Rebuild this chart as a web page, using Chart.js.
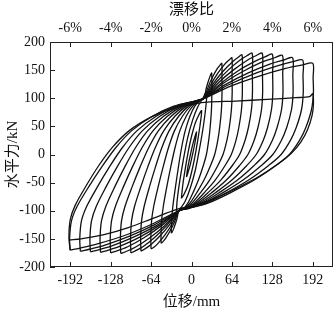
<!DOCTYPE html>
<html><head><meta charset="utf-8">
<script src="https://cdn.jsdelivr.net/npm/chart.js@4.4.1/dist/chart.umd.min.js"></script>
<style>html,body{margin:0;padding:0;background:#fff;}#wrap{width:336px;height:311px;}</style>
</head><body><div id="wrap"><canvas id="c" width="336" height="311"></canvas></div>
<script>
// Tick labels
const xTicks = [-192,-128,-64,0,64,128,192];
const yTicks = [-200,-150,-100,-50,0,50,100,150,200];
const driftTicks = [-6,-4,-2,0,2,4,6];

// Hysteresis loops: [displacement mm, force kN]
const loop008 = [[-8,-40],[-6,-24],[-2,-2],[2,18],[6,34],[8,40],[6,24],[2,2],[-2,-18],[-6,-34],[-8,-40]];
const loop016 = [[-16,-78],[-14,-56],[-10,-26],[-5,6],[0,32],[6,56],[12,71],[16,78],[14,56],[10,26],[5,-6],[0,-32],[-6,-56],[-12,-71],[-16,-78]];
const loop024 = [[-24,-108],[-23,-85],[-19,-50],[-13,-10],[-6,30],[2,62],[10,85],[18,100],[24,112],[23,88],[19,52],[13,12],[6,-28],[-2,-60],[-10,-83],[-18,-97],[-24,-108]];
const loop032 = [[-32,-140],[-31.6,-118],[-29.5,-92],[-25.4,-58],[-20.7,-22],[-15.7,12],[-10,42],[-2.5,68],[5.2,86],[12.7,95],[20,100],[23,116],[26,128],[29,138],[30.8,143],[32,145],
  [32.2,110],[31.6,80],[29.5,48],[27.2,25],[23.6,0],[18.6,-20],[11.1,-45],[3.2,-66],[-5.5,-86],[-12.7,-96],[-20,-100],[-23,-114],[-26,-125],[-29,-134],[-30.8,-138],[-32,-140]];
const loop048 = [[-48,-158],[-48.3,-150],[-47.4,-118],[-44.6,-92],[-39.2,-58],[-32.8,-22],[-26.1,12],[-18.5,42],[-8.4,68],[1.9,86],[12,95],[20,100],[27,122],[34,139],[41,153],[45.2,159],[48,162],
  [48.2,136],[48.3,110],[47.4,80],[44.6,48],[41.6,25],[36.7,0],[30,-20],[20,-45],[9.3,-66],[-2.2,-86],[-12,-96],[-20,-100],[-27,-120],[-34,-136],[-41,-149],[-45.2,-155],[-48,-158]];
const loop064 = [[-64,-168],[-64.4,-150],[-63.2,-118],[-59.8,-92],[-52.9,-58],[-44.9,-22],[-36.5,12],[-27,42],[-14.4,68],[-1.4,86],[11.2,95],[20,100],[31,125],[42,145],[53,161],[59.6,168],[64,172],
  [64.2,141],[64.4,110],[63.2,80],[59.8,48],[56,25],[49.9,0],[41.5,-20],[28.9,-45],[15.5,-66],[1,-86],[-11.2,-96],[-20,-100],[-31,-124],[-42,-143],[-53,-158],[-59.6,-165],[-64,-168]];
const loop080 = [[-80,-172],[-80.5,-150],[-79.1,-118],[-74.9,-92],[-66.7,-58],[-57,-22],[-47,12],[-35.5,42],[-20.3,68],[-4.7,86],[10.4,95],[20,100],[35,127],[50,148],[65,165],[74,173],[80,177],
  [80.3,144],[80.5,110],[79.1,80],[74.9,48],[70.4,25],[63,0],[52.9,-20],[37.8,-45],[21.7,-66],[4.3,-86],[-10.4,-96],[-20,-100],[-35,-125],[-50,-145],[-65,-161],[-74,-168],[-80,-172]];
const loop096 = [[-96,-175],[-96.5,-150],[-94.9,-118],[-90.1,-92],[-80.4,-58],[-69.2,-22],[-57.4,12],[-44,42],[-26.3,68],[-8.1,86],[9.6,95],[20,100],[39,128],[58,150],[77,168],[88.4,176],[96,180],
  [96.3,145],[96.5,110],[94.9,80],[90.1,48],[84.7,25],[76.2,0],[64.4,-20],[46.7,-45],[27.9,-66],[7.5,-86],[-9.6,-96],[-20,-100],[-39,-126],[-58,-147],[-77,-164],[-88.4,-171],[-96,-175]];
const loop112 = [[-112,-176],[-112.6,-150],[-110.8,-118],[-105.2,-92],[-94.2,-58],[-81.3,-22],[-67.8,12],[-52.5,42],[-32.2,68],[-11.4,86],[8.9,95],[20,100],[43,128],[66,150],[89,168],[102.8,176],[112,180],
  [112.3,145],[112.6,110],[110.8,80],[105.2,48],[99.1,25],[89.3,0],[75.8,-20],[55.6,-45],[34.1,-66],[10.8,-86],[-8.9,-96],[-20,-100],[-43,-127],[-66,-148],[-89,-165],[-102.8,-172],[-112,-176]];
const loop128 = [[-128,-175],[-128.7,-150],[-126.6,-118],[-120.4,-92],[-108,-58],[-93.5,-22],[-78.3,12],[-61,42],[-38.2,68],[-14.7,86],[8.1,95],[20,100],[47,127],[74,149],[101,166],[117.2,174],[128,178],
  [128.4,144],[128.7,110],[126.6,80],[120.4,48],[113.5,25],[102.4,0],[87.2,-20],[64.4,-45],[40.3,-66],[14,-86],[-8.1,-96],[-20,-100],[-47,-126],[-74,-147],[-101,-164],[-117.2,-171],[-128,-175]];
const loop144 = [[-144,-174],[-144.8,-150],[-142.5,-118],[-135.5,-92],[-121.7,-58],[-105.6,-22],[-88.7,12],[-69.5,42],[-44.1,68],[-18,86],[7.3,95],[20,100],[51,127],[82,148],[113,165],[131.6,172],[144,176],
  [144.4,143],[144.8,110],[142.5,80],[135.5,48],[127.9,25],[115.6,0],[98.7,-20],[73.3,-45],[46.4,-66],[17.3,-86],[-7.3,-96],[-20,-100],[-51,-126],[-82,-147],[-113,-163],[-131.6,-170],[-144,-174]];
const loop160 = [[-160,-173],[-160.8,-150],[-158.3,-118],[-150.7,-92],[-135.5,-58],[-117.7,-22],[-99.1,12],[-78,42],[-50.1,68],[-21.4,86],[6.5,95],[20,100],[55,125],[90,145],[125,161],[146,168],[160,172],
  [160.4,141],[160.8,110],[158.3,80],[150.7,48],[142.2,25],[128.7,0],[110.1,-20],[82.2,-45],[52.6,-66],[20.5,-86],[-6.5,-96],[-20,-100],[-55,-126],[-90,-146],[-125,-162],[-146,-169],[-160,-173]];
const loop176 = [[-176,-172],[-176.9,-150],[-174.2,-118],[-165.8,-92],[-149.2,-58],[-129.9,-22],[-109.6,12],[-86.5,42],[-56,68],[-24.7,86],[5.8,95],[20,100],[59,124],[98,143],[137,158],[160.4,165],[176,168],
  [176.5,139],[176.9,110],[174.2,80],[165.8,48],[156.6,25],[141.9,0],[121.6,-20],[91.1,-45],[58.8,-66],[23.8,-86],[-5.8,-96],[-20,-100],[-59,-125],[-98,-145],[-137,-161],[-160.4,-168],[-176,-172]];
const loop192 = [[-192,-170],[-193,-150],[-190,-118],[-181,-92],[-163,-58],[-142,-22],[-120,12],[-95,42],[-62,68],[-28,86],[5,95],[20,100],[63,122],[106,139],[149,153],[174.8,159],[192,162],
  [192.5,136],[193,110],[190,80],[181,48],[171,25],[155,0],[133,-20],[100,-45],[65,-66],[27,-86],[-5,-96],[-20,-100],[-63,-124],[-106,-144],[-149,-159],[-174.8,-166],[-192,-170]];
const loop192b = [[-192,-170],[-194,-148],[-192,-116],[-184,-90],[-167,-56],[-147,-20],[-125,13],[-99,42],[-65,66],[-30,82],[5,90],[25,93],[70,95],[120,98],[165,101],[187,103],[192,108],
  [193,90],[191,70],[184,45],[173,22],[158,2],[137,-17],[104,-41],[68,-62],[29,-82],[-5,-93],[-22,-97],[-60,-113],[-100,-130],[-140,-143],[-175,-150],[-193,-152]];

const loops = [loop008,loop016,loop024,loop032,loop048,loop064,loop080,loop096,loop112,loop128,loop144,loop160,loop176,loop192,loop192b];

const serif = "'Liberation Serif','Noto Sans CJK SC',serif";
const ink = '#111';

const framePlugin = {
  id: 'frame',
  afterDatasetsDraw(chart) {
    const {ctx, chartArea: a, scales} = chart;
    ctx.save();
    ctx.strokeStyle = '#222';
    ctx.lineWidth = 1;
    ctx.strokeRect(a.left + 0.5, a.top + 0.5, a.right - a.left - 1, a.bottom - a.top - 1);
    ctx.beginPath();
    xTicks.forEach(v => { const p = Math.round(scales.x.getPixelForValue(v)) + 0.5; ctx.moveTo(p, a.bottom); ctx.lineTo(p, a.bottom - 5); });
    driftTicks.forEach(v => { const p = Math.round(scales.x2.getPixelForValue(v)) + 0.5; ctx.moveTo(p, a.top); ctx.lineTo(p, a.top + 5); });
    yTicks.forEach(v => { const p = Math.round(scales.y.getPixelForValue(v)) + 0.5; ctx.moveTo(a.left, p); ctx.lineTo(a.left + 5, p); });
    ctx.stroke();
    ctx.restore();
  }
};

const tickFont = {family: serif, size: 14};
const titleFont = {family: serif, size: 15};

new Chart(document.getElementById('c'), {
  type: 'scatter',
  data: {
    datasets: loops.map(l => ({
      data: l.map(p => ({x: p[0], y: p[1]})),
      showLine: true,
      borderColor: ink,
      borderWidth: 1.3,
      pointRadius: 0,
      tension: 0.3,
      fill: false
    }))
  },
  options: {
    responsive: false,
    animation: false,
    layout: {padding: {top: 0, right: 3, bottom: 0, left: 0}},
    plugins: {legend: {display: false}, tooltip: {enabled: false}},
    scales: {
      x: {
        type: 'linear', position: 'bottom', min: -224, max: 224,
        afterBuildTicks: s => { s.ticks = xTicks.map(v => ({value: v})); },
        afterFit: s => { s.height = 44; },
        grid: {display: false, drawTicks: false}, border: {display: false},
        ticks: {padding: 5, color: ink, font: tickFont, maxRotation: 0, callback: v => String(v)},
        title: {display: true, text: '位移/mm', color: ink, font: titleFont, padding: {top: 0, bottom: 0}}
      },
      x2: {
        type: 'linear', position: 'top', min: -7, max: 7,
        afterBuildTicks: s => { s.ticks = driftTicks.map(v => ({value: v})); },
        afterFit: s => { s.height = 42; },
        grid: {display: false, drawTicks: false}, border: {display: false},
        ticks: {padding: 5, color: ink, font: tickFont, maxRotation: 0, callback: v => v + '%'},
        title: {display: true, text: '漂移比', color: ink, font: titleFont, padding: {top: 1, bottom: 0}}
      },
      y: {
        type: 'linear', position: 'left', min: -200, max: 200,
        afterBuildTicks: s => { s.ticks = yTicks.map(v => ({value: v})); },
        afterFit: s => { s.width = 50; },
        grid: {display: false, drawTicks: false}, border: {display: false},
        ticks: {padding: 5, color: ink, font: tickFont, callback: v => String(v)},
        title: {display: true, text: '水平力/kN', color: ink, font: titleFont, padding: {top: 4, bottom: 0}}
      }
    }
  },
  plugins: [framePlugin]
});
</script></body></html>
